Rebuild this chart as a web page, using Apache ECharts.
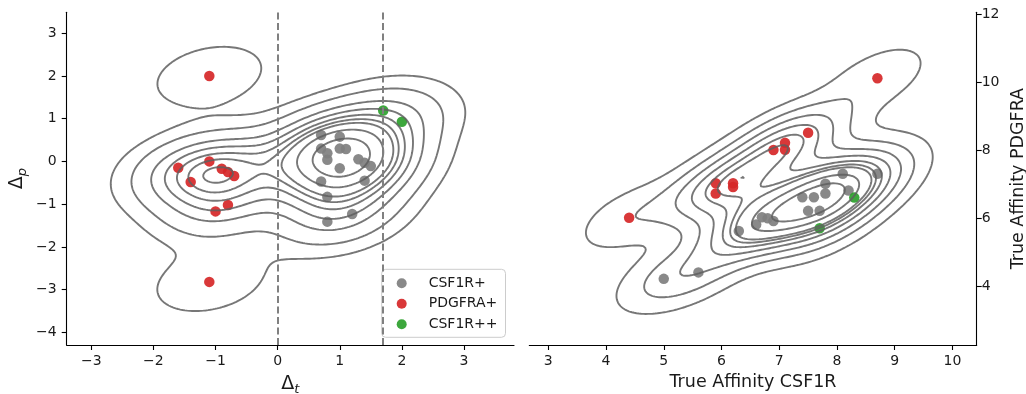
<!DOCTYPE html>
<html><head><meta charset="utf-8">
<script src="https://cdn.jsdelivr.net/npm/echarts@6/dist/echarts.min.js"></script>
<style>html,body{margin:0;padding:0;background:#fff}#c{width:1026px;height:394px}</style>
</head><body><div id="c"></div>
<script>
// ---------------- DATA ----------------
const seriesNames = ['CSF1R+', 'PDGFRA+', 'CSF1R++'];
const seriesColors = ['#7f7f7f', '#d62728', '#2ca02c'];

// Left panel (Δt, Δp)
const leftGrayX  = [0.7, 1.0, 0.7, 0.8, 0.8, 1.0, 1.1, 1.0, 1.3, 1.4, 1.5, 0.7, 1.4, 0.8, 1.2, 0.8];
const leftGrayY  = [0.62, 0.58, 0.30, 0.19, 0.04, 0.30, 0.29, -0.16, 0.05, -0.03, -0.11, -0.47, -0.45, -0.83, -1.23, -1.41];
const leftRedX   = [-1.1, -1.1, -1.6, -1.4, -0.9, -0.8, -0.7, -0.8, -1.0, -1.1];
const leftRedY   = [2.0, 0.0, -0.15, -0.48, -0.17, -0.25, -0.34, -1.02, -1.17, -2.82];
const leftGreenX = [1.7, 2.0];
const leftGreenY = [1.19, 0.93];

// Right panel (True Affinity CSF1R, True Affinity PDGFRA)
const rightGrayX  = [5.0, 5.6, 6.3, 6.6, 6.7, 6.8, 6.9, 7.4, 7.6, 7.5, 7.7, 7.8, 7.8, 8.1, 8.2, 8.7];
const rightGrayY  = [4.21, 4.40, 5.62, 5.81, 6.02, 5.99, 5.91, 6.61, 6.61, 6.21, 6.21, 7.01, 6.72, 7.30, 6.81, 7.30];
const rightRedX   = [4.4, 8.7, 7.5, 7.1, 7.1, 6.9, 5.9, 5.9, 6.2, 6.2];
const rightRedY   = [6.01, 10.11, 8.51, 8.21, 8.01, 8.0, 7.02, 6.72, 7.02, 6.91];
const rightGreenX = [8.3, 7.7];
const rightGreenY = [6.60, 5.70];

const dashedLinesX = [0, 1.7];

const leftXTicks  = [-3, -2, -1, 0, 1, 2, 3];
const leftYTicks  = [-4, -3, -2, -1, 0, 1, 2, 3];
const rightXTicks = [3, 4, 5, 6, 7, 8, 9, 10];
const rightYTicks = [4, 6, 8, 10, 12];

// ---------------- KDE (scott bandwidth, seaborn-style iso-proportion levels) ----------------
function kdeContours(xs, ys) {
  const n = xs.length, G = 200, cut = 3;
  const mean = a => a.reduce((s, v) => s + v, 0) / a.length;
  const mx = mean(xs), my = mean(ys);
  let sxx = 0, syy = 0, sxy = 0;
  for (let k = 0; k < n; k++) {
    const dx = xs[k] - mx, dy = ys[k] - my;
    sxx += dx * dx; syy += dy * dy; sxy += dx * dy;
  }
  sxx /= (n - 1); syy /= (n - 1); sxy /= (n - 1);
  const f2 = Math.pow(n, -2 / 6);
  const a = sxx * f2, b = sxy * f2, d = syy * f2;
  const det = a * d - b * b;
  const ia = d / det, ib = -b / det, id = a / det;
  const bwx = Math.sqrt(a), bwy = Math.sqrt(d);
  const x0 = Math.min(...xs) - cut * bwx, x1 = Math.max(...xs) + cut * bwx;
  const y0 = Math.min(...ys) - cut * bwy, y1 = Math.max(...ys) + cut * bwy;
  const gx = [], gy = [];
  for (let i = 0; i < G; i++) { gx.push(x0 + (x1 - x0) * i / (G - 1)); gy.push(y0 + (y1 - y0) * i / (G - 1)); }
  const V = new Float64Array(G * G);
  for (let j = 0; j < G; j++) for (let i = 0; i < G; i++) {
    let s = 0;
    for (let k = 0; k < n; k++) {
      const dx = gx[i] - xs[k], dy = gy[j] - ys[k];
      s += Math.exp(-0.5 * (ia * dx * dx + 2 * ib * dx * dy + id * dy * dy));
    }
    V[j * G + i] = s;
  }
  const sorted = Array.from(V).sort((p, q) => q - p);
  const total = sorted.reduce((s, v) => s + v, 0);
  const cum = new Float64Array(sorted.length);
  let acc = 0;
  for (let k = 0; k < sorted.length; k++) { acc += sorted[k]; cum[k] = acc / total; }
  const levels = [];
  for (let q = 0; q < 10; q++) {
    const iso = 0.05 + (1 - 0.05) * q / 9;
    const target = 1 - iso;
    let lo = 0, hi = cum.length;
    while (lo < hi) { const m = (lo + hi) >> 1; if (cum[m] < target) lo = m + 1; else hi = m; }
    const idx = Math.min(lo, sorted.length - 1);
    if (idx > 0) levels.push(sorted[idx]);
  }
  const lines = [];
  levels.forEach(L => march(V, G, gx, gy, L).forEach(pl => lines.push(pl)));
  return lines;
}

function march(V, G, gx, gy, L) {
  const pts = new Map(), segs = [], adj = new Map();
  function edge(i, j, e) {
    let key, ia, ib, horiz, xi, yj;
    if (e === 0) { key = (j * G + i) * 2; ia = j * G + i; ib = j * G + i + 1; horiz = true; xi = i; yj = j; }
    else if (e === 2) { key = ((j + 1) * G + i) * 2; ia = (j + 1) * G + i; ib = (j + 1) * G + i + 1; horiz = true; xi = i; yj = j + 1; }
    else if (e === 3) { key = (j * G + i) * 2 + 1; ia = j * G + i; ib = (j + 1) * G + i; horiz = false; xi = i; yj = j; }
    else { key = (j * G + i + 1) * 2 + 1; ia = j * G + i + 1; ib = (j + 1) * G + i + 1; horiz = false; xi = i + 1; yj = j; }
    if (!pts.has(key)) {
      const t = (L - V[ia]) / (V[ib] - V[ia]);
      pts.set(key, horiz ? [gx[xi] + t * (gx[xi + 1] - gx[xi]), gy[yj]] : [gx[xi], gy[yj] + t * (gy[yj + 1] - gy[yj])]);
    }
    return key;
  }
  const T = {1: [[3, 0]], 2: [[0, 1]], 3: [[3, 1]], 4: [[1, 2]], 6: [[0, 2]], 7: [[2, 3]], 8: [[2, 3]], 9: [[0, 2]], 11: [[1, 2]], 12: [[3, 1]], 13: [[0, 1]], 14: [[3, 0]]};
  for (let j = 0; j < G - 1; j++) for (let i = 0; i < G - 1; i++) {
    const va = V[j * G + i], vb = V[j * G + i + 1], vc = V[(j + 1) * G + i + 1], vd = V[(j + 1) * G + i];
    const c = (va > L ? 1 : 0) | (vb > L ? 2 : 0) | (vc > L ? 4 : 0) | (vd > L ? 8 : 0);
    if (c === 0 || c === 15) continue;
    let list = T[c];
    const center = (va + vb + vc + vd) / 4;
    if (c === 5) list = center > L ? [[0, 1], [2, 3]] : [[3, 0], [1, 2]];
    if (c === 10) list = center > L ? [[3, 0], [1, 2]] : [[0, 1], [2, 3]];
    list.forEach(([e1, e2]) => {
      const k1 = edge(i, j, e1), k2 = edge(i, j, e2);
      const s = segs.length; segs.push([k1, k2]);
      if (!adj.has(k1)) adj.set(k1, []); adj.get(k1).push(s);
      if (!adj.has(k2)) adj.set(k2, []); adj.get(k2).push(s);
    });
  }
  const used = new Uint8Array(segs.length), out = [];
  for (let s = 0; s < segs.length; s++) {
    if (used[s]) continue;
    used[s] = 1;
    const chain = [segs[s][0], segs[s][1]];
    const walk = (start, push) => {
      let cur = start;
      while (true) {
        const l = adj.get(cur); let nx = -1;
        for (const t of l) if (!used[t]) { nx = t; break; }
        if (nx < 0) break;
        used[nx] = 1;
        const o = segs[nx][0] === cur ? segs[nx][1] : segs[nx][0];
        push(o); cur = o;
      }
    };
    walk(chain[1], k => chain.push(k));
    walk(chain[0], k => chain.unshift(k));
    out.push(chain.map(k => pts.get(k)));
  }
  return out;
}

// ---------------- CHART ----------------
const FONT = 'DejaVu Sans';
const TXT = '#1a1a1a';
const zip = (a, b) => a.map((v, i) => [v, b[i]]);
const minus = v => String(v).replace('-', '\u2212');

const leftAllX = leftGrayX.concat(leftRedX, leftGreenX);
const leftAllY = leftGrayY.concat(leftRedY, leftGreenY);
const rightAllX = rightGrayX.concat(rightRedX, rightGreenX);
const rightAllY = rightGrayY.concat(rightRedY, rightGreenY);
const leftContours = kdeContours(leftAllX, leftAllY);
const rightContours = kdeContours(rightAllX, rightAllY);

function axisCommon(ticks, margin) {
  return {
    type: 'value', splitLine: {show: false},
    axisLine: {show: true, onZero: false, lineStyle: {color: '#000', width: 1.1}},
    axisTick: {show: true, length: 5, customValues: ticks, lineStyle: {color: '#000', width: 1.1}},
    axisLabel: {customValues: ticks, formatter: minus, color: TXT, fontFamily: FONT, fontSize: 14, margin: margin},
    nameTextStyle: {color: TXT, fontFamily: FONT, fontSize: 17.5}
  };
}

function scatter(name, color, xi, data, extra) {
  return Object.assign({
    type: 'scatter', name, xAxisIndex: xi, yAxisIndex: xi, data,
    symbolSize: 10.5, z: 2,
    itemStyle: {color, opacity: 0.92},
    emphasis: {disabled: true}
  }, extra || {});
}

const deltaRich = {
  d: {fontSize: 19, fontFamily: FONT, color: TXT, lineHeight: 24},
  s: {fontSize: 13, fontFamily: FONT, fontStyle: 'italic', color: TXT, lineHeight: 13, verticalAlign: 'bottom'}
};

const option = {
  animation: false,
  backgroundColor: '#fff',
  grid: [
    {left: 66.7, top: 12.3, width: 447.3, height: 332.7, outerBoundsMode: 'none', containLabel: false},
    {left: 529.3, top: 12.3, width: 447.4, height: 332.7, outerBoundsMode: 'none', containLabel: false}
  ],
  xAxis: [
    Object.assign(axisCommon(leftXTicks, 9), {gridIndex: 0, min: -3.396, max: 3.805,
      name: '{d|Δ}{s|t}', nameLocation: 'middle', nameGap: 27}),
    Object.assign(axisCommon(rightXTicks, 9), {gridIndex: 1, min: 2.671, max: 10.42,
      name: 'True Affinity CSF1R', nameLocation: 'middle', nameGap: 28})
  ],
  yAxis: [
    Object.assign(axisCommon(leftYTicks, 10), {gridIndex: 0, min: -4.297, max: 3.49,
      name: '{d|Δ}{s|p}', nameLocation: 'middle', nameGap: 38, nameRotate: 90}),
    Object.assign(axisCommon(rightYTicks, 5), {gridIndex: 1, position: 'right', min: 2.265, max: 12.05,
      name: 'True Affinity PDGFRA', nameLocation: 'middle', nameGap: 33, nameRotate: 90})
  ],
  legend: {
    left: 381.7, top: 269.3, orient: 'vertical',
    data: seriesNames,
    icon: 'circle', itemWidth: 10, itemHeight: 10, itemGap: 6.5,
    padding: [7, 8, 6, 15],
    backgroundColor: 'rgba(255,255,255,0.8)', borderColor: '#cccccc', borderWidth: 1, borderRadius: 4,
    textStyle: {fontFamily: FONT, fontSize: 14, color: TXT, padding: [0, 0, 0, 17]},
    selectedMode: false
  },
  series: [
    scatter(seriesNames[0], seriesColors[0], 0, zip(leftGrayX, leftGrayY), {
      markLine: {
        silent: true, symbol: 'none', label: {show: false},
        lineStyle: {color: '#808080', type: [7, 3.5], width: 2},
        data: dashedLinesX.map(v => ({xAxis: v}))
      }
    }),
    scatter(seriesNames[1], seriesColors[1], 0, zip(leftRedX, leftRedY)),
    scatter(seriesNames[2], seriesColors[2], 0, zip(leftGreenX, leftGreenY)),
    scatter(seriesNames[0], seriesColors[0], 1, zip(rightGrayX, rightGrayY)),
    scatter(seriesNames[1], seriesColors[1], 1, zip(rightRedX, rightRedY)),
    scatter(seriesNames[2], seriesColors[2], 1, zip(rightGreenX, rightGreenY)),
    {type: 'lines', coordinateSystem: 'cartesian2d', xAxisIndex: 0, yAxisIndex: 0, polyline: true, silent: true, z: 3,
      lineStyle: {color: 'rgba(95,95,95,0.85)', width: 1.9, opacity: 1},
      data: leftContours.map(c => ({coords: c}))},
    {type: 'lines', coordinateSystem: 'cartesian2d', xAxisIndex: 1, yAxisIndex: 1, polyline: true, silent: true, z: 3,
      lineStyle: {color: 'rgba(95,95,95,0.85)', width: 1.9, opacity: 1},
      data: rightContours.map(c => ({coords: c}))}
  ]
};
option.xAxis[0].nameTextStyle.rich = deltaRich;
option.yAxis[0].nameTextStyle.rich = deltaRich;

const chart = echarts.init(document.getElementById('c'), null, {renderer: 'canvas'});
chart.setOption(option);
</script>
</body></html>
